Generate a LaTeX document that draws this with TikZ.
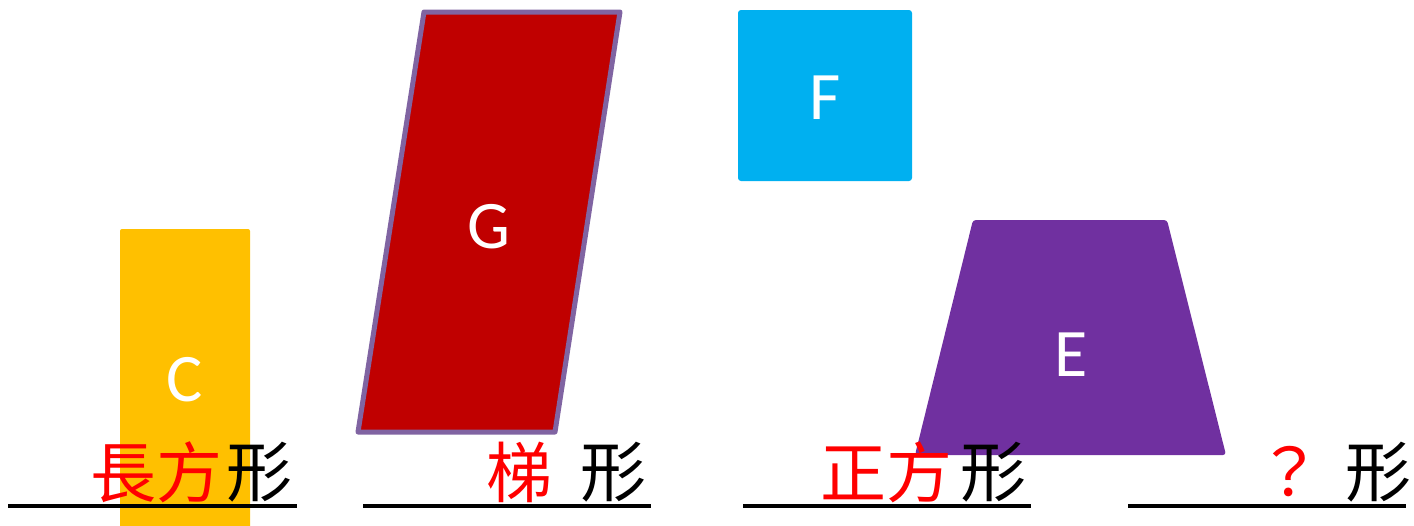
\documentclass[tikz,border=0pt]{standalone}
\usepackage{fontspec}
\setmainfont{Carlito}
\newfontfamily\cjk{Noto Sans CJK TC}
\definecolor{cyel}{HTML}{FFC000}
\definecolor{cred}{HTML}{C00000}
\definecolor{cbord}{HTML}{8064A2}
\definecolor{cblue}{HTML}{00B0F0}
\definecolor{cpurp}{HTML}{7030A0}
\begin{document}
\begin{tikzpicture}[x=0.5pt,y=-0.5pt,
  letter/.style={text=white,font=\fontsize{34}{34}\selectfont,inner sep=0pt},
  zh/.style={font=\cjk\fontsize{33}{33}\selectfont,inner sep=0pt,anchor=west},
  uline/.style={line width=2pt}]
\useasboundingbox (0,0) rectangle (1414,525);
% shapes
\fill[cyel,rounded corners=1pt] (120,229) rectangle (250,530);
\filldraw[fill=cred,draw=cbord,line width=2.5pt,line join=round] (424,12) -- (620,12) -- (555,432) -- (358,432) -- cycle;
\fill[cblue,rounded corners=1.5pt] (738,10) rectangle (912,181);
\fill[cpurp,rounded corners=1.5pt] (973,220) -- (1167,220) -- (1226,455) -- (915,455) -- cycle;
% letters
\node[letter] (lc) at (185,380) {C};
\node[letter] (lg) at (489,227) {G};
\node[letter] (lf) at (825,98) {F};
\node[letter] (le) at (1071,355) {E};
% underlines
\coordinate (u1a) at (8,506); \coordinate (u1b) at (297,506);
\coordinate (u2a) at (363,506); \coordinate (u2b) at (651,506);
\coordinate (u3a) at (743,506); \coordinate (u3b) at (1031,506);
\coordinate (u4a) at (1128,506); \coordinate (u4b) at (1406,506);
\draw[uline] (u1a) -- (u1b);
\draw[uline] (u2a) -- (u2b);
\draw[uline] (u3a) -- (u3b);
\draw[uline] (u4a) -- (u4b);
% texts
\node[zh,text=red] (t1r) at (90,472) {長方};
\node[zh] (t1b) at (226,472) {形};
\node[zh,text=red] (t2r) at (486,472) {梯};
\node[zh] (t2b) at (580,472) {形};
\node[zh,text=red] (t3r) at (820,472) {正方};
\node[zh] (t3b) at (960,472) {形};
\node[zh,text=red] (t4r) at (1256,472) {？};
\node[zh] (t4b) at (1345,472) {形};
\end{tikzpicture}
\end{document}
